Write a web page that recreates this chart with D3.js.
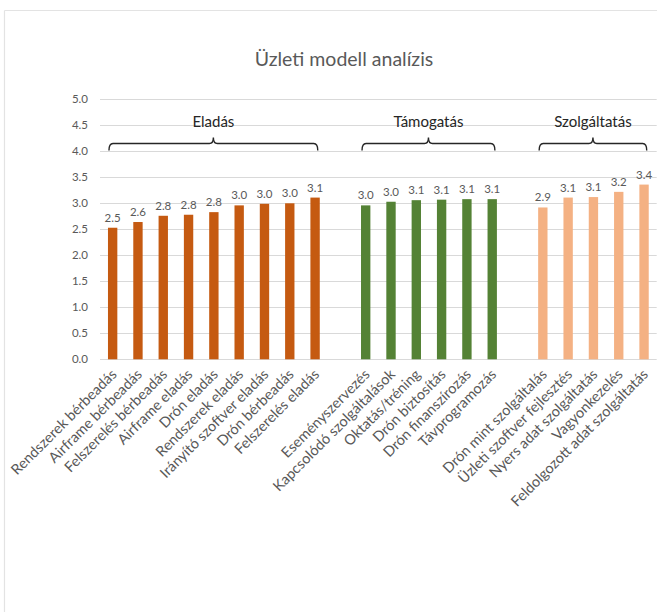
<!DOCTYPE html>
<html>
<head>
<meta charset="utf-8">
<script src="https://cdn.jsdelivr.net/npm/d3@7"></script>
<style>
  html, body { margin: 0; padding: 0; background: #fff; }
  svg { display: block; font-family: Lato, "Noto Sans", sans-serif; }
</style>
</head>
<body>
<svg id="chart" width="658" height="612"></svg>
<script>
// Category groups and their scores
const groupNames = ["Eladás", "Támogatás", "Szolgáltatás"];
const groupColors = ["#c55a11", "#548235", "#f4b183"];

const salesCategories = [
  "Rendszerek bérbeadás", "Airframe bérbeadás", "Felszerelés bérbeadás",
  "Airframe eladás", "Drón eladás", "Rendszerek eladás",
  "Irányító szoftver eladás", "Drón bérbeadás", "Felszerelés eladás"
];
const salesValues = [2.53, 2.64, 2.76, 2.78, 2.83, 2.96, 2.99, 3.0, 3.11];

const supportCategories = [
  "Eseményszervezés", "Kapcsolódó szolgáltalások", "Oktatás/tréning",
  "Drón biztosítás", "Drón finanszírozás", "Távprogramozás"
];
const supportValues = [2.96, 3.03, 3.06, 3.07, 3.08, 3.08];

const serviceCategories = [
  "Drón mint szolgáltalás", "Üzleti szoftver fejlesztés", "Nyers adat szolgáltatás",
  "Vagyonkezelés", "Feldolgozott adat szolgáltatás"
];
const serviceValues = [2.92, 3.11, 3.12, 3.22, 3.36];

const yTicks = [0, 0.5, 1.0, 1.5, 2.0, 2.5, 3.0, 3.5, 4.0, 4.5, 5.0];

// Build a flat slot list with one empty slot between groups
const groups = [
  { name: groupNames[0], color: groupColors[0], cats: salesCategories, vals: salesValues },
  { name: groupNames[1], color: groupColors[1], cats: supportCategories, vals: supportValues },
  { name: groupNames[2], color: groupColors[2], cats: serviceCategories, vals: serviceValues }
];
const slots = [];
const bars = [];
groups.forEach((g, gi) => {
  if (gi > 0) slots.push("__gap" + gi);
  g.cats.forEach((c, i) => {
    slots.push(c);
    bars.push({ cat: c, value: g.vals[i], color: g.color, group: gi });
  });
});

const svg = d3.select("#chart");
const textGray = "#595959";

// Chart frame (top and left edges)
svg.append("line").attr("x1", 4.5).attr("x2", 657).attr("y1", 10.5).attr("y2", 10.5)
  .attr("stroke", "#e3e3e3").attr("stroke-width", 1.2);
svg.append("line").attr("x1", 4.5).attr("x2", 4.5).attr("y1", 10.5).attr("y2", 612)
  .attr("stroke", "#e3e3e3").attr("stroke-width", 1.2);

// Title
svg.append("text")
  .attr("x", 344).attr("y", 66)
  .attr("text-anchor", "middle")
  .attr("font-size", 19.5)
  .attr("fill", textGray)
  .text("Üzleti modell analízis");

const plotLeft = 100, plotRight = 656.7, plotTop = 99.3, plotBottom = 359.3;

const x = d3.scaleBand()
  .domain(slots)
  .range([plotLeft, plotRight])
  .paddingInner(0.63)
  .paddingOuter(0.315);

const y = d3.scaleLinear().domain([0, 5]).range([plotBottom, plotTop]);

// Gridlines
svg.append("g")
  .selectAll("line")
  .data(yTicks)
  .join("line")
  .attr("x1", plotLeft).attr("x2", plotRight)
  .attr("y1", d => Math.round(y(d)) + 0.5).attr("y2", d => Math.round(y(d)) + 0.5)
  .attr("stroke", "#d9d9d9").attr("stroke-width", 1);

// Y axis labels
const yAxis = d3.axisLeft(y).tickValues(yTicks).tickFormat(d3.format(".1f")).tickSize(0).tickPadding(0);
const yG = svg.append("g").attr("transform", `translate(${plotLeft - 12},0)`).call(yAxis);
yG.select(".domain").remove();
yG.selectAll("text").attr("fill", textGray).attr("font-size", 11.5)
  .attr("font-family", "Lato, 'Noto Sans', sans-serif");

// Bars
svg.append("g")
  .selectAll("rect")
  .data(bars)
  .join("rect")
  .attr("x", d => x(d.cat))
  .attr("width", x.bandwidth())
  .attr("y", d => y(d.value))
  .attr("height", d => y(0) - y(d.value))
  .attr("fill", d => d.color);

// Value labels
svg.append("g")
  .selectAll("text")
  .data(bars)
  .join("text")
  .attr("x", d => x(d.cat) + x.bandwidth() / 2)
  .attr("y", d => y(d.value) - 6)
  .attr("text-anchor", "middle")
  .attr("font-size", 11.5)
  .attr("fill", textGray)
  .text(d => d3.format(".1f")(d.value));

// Category labels, rotated
const xAxis = d3.axisBottom(x).tickValues(slots.filter(s => !s.startsWith("__gap"))).tickSize(0).tickPadding(0);
const xG = svg.append("g").attr("transform", `translate(0,${plotBottom})`).call(xAxis);
xG.select(".domain").remove();
xG.selectAll("text")
  .attr("fill", textGray)
  .attr("font-size", 14.5)
  .attr("font-family", "Lato, 'Noto Sans', sans-serif")
  .attr("text-anchor", "end")
  .attr("dy", null)
  .attr("transform", "translate(5,16) rotate(-45)");

// Group brackets with labels
const bracketY = y(4.15);
groups.forEach(g => {
  const x0 = x(g.cats[0]) + 1;
  const x1 = x(g.cats[g.cats.length - 1]) + x.bandwidth() - 2;
  const xm = (x0 + x1) / 2;
  const r = 4;
  const path = d3.path();
  path.moveTo(x0, bracketY + 7);
  path.quadraticCurveTo(x0, bracketY, x0 + r, bracketY);
  path.lineTo(xm - r, bracketY);
  path.quadraticCurveTo(xm, bracketY, xm, bracketY - 6);
  path.quadraticCurveTo(xm, bracketY, xm + r, bracketY);
  path.lineTo(x1 - r, bracketY);
  path.quadraticCurveTo(x1, bracketY, x1, bracketY + 7);
  svg.append("path")
    .attr("d", path.toString())
    .attr("fill", "none")
    .attr("stroke", "#262626")
    .attr("stroke-width", 1.4);
  svg.append("text")
    .attr("x", xm).attr("y", y(4.47))
    .attr("text-anchor", "middle")
    .attr("font-size", 15)
    .attr("fill", "#262626")
    .text(g.name);
});
</script>
</body>
</html>
